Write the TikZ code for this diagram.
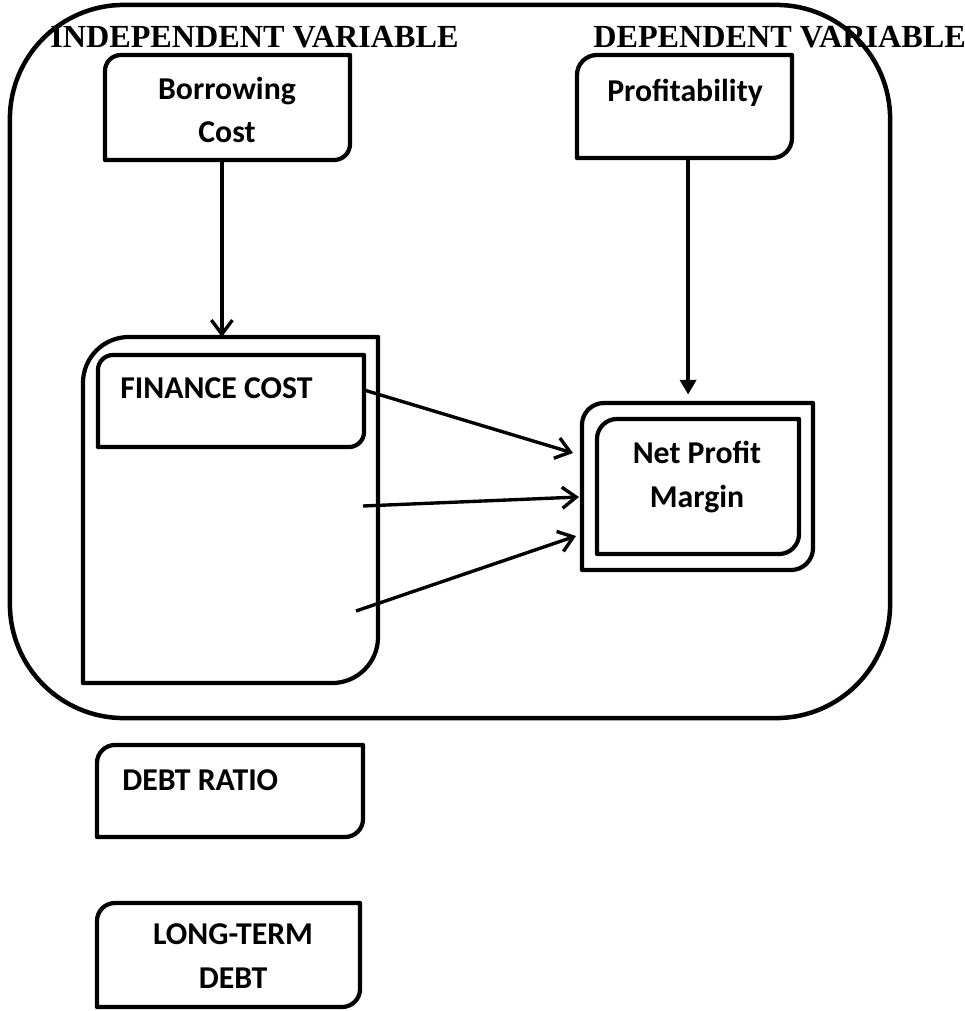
\documentclass[tikz,border=0pt]{standalone}
\usepackage{fontspec}
\setmainfont{Liberation Serif}
\newfontfamily\boxfont{Carlito}
\usetikzlibrary{arrows.meta, positioning}

% box with the top left and bottom right corners rounded
\newcommand{\cornerbox}[2]{%
  \draw[boxline] ([yshift=-#2]#1.north west)
    arc[start angle=180, end angle=90, radius=#2] -- (#1.north east)
    -- ([yshift=#2]#1.south east)
    arc[start angle=0, end angle=-90, radius=#2] -- (#1.south west) -- cycle;
}

\begin{document}
\begin{tikzpicture}[
  x=0.025cm, y=-0.025cm,
  area/.style = {inner sep=0pt, outer sep=0pt},
  boxline/.style = {line width=3pt, line join=round},
  frame/.style = {area, draw, line width=3.2pt, rounded corners=2.85cm},
  txt/.style = {font=\boxfont\fontsize{22.6}{31}\selectfont\bfseries,
    inner sep=0pt, align=center},
  head/.style = {font=\fontsize{22.9}{27}\selectfont\bfseries, inner sep=0pt},
  arr/.style = {-{Straight Barb[length=10pt,width=15pt]}, line width=2.4pt},
  fill arr/.style = {-{Triangle[length=10.5pt,width=11.5pt]}, line width=2.4pt},
]
\useasboundingbox (0,0) rectangle (965,1011);

% outer frame
\node[frame, minimum width=22cm, minimum height=17.825cm] (frame) at (450,361.5) {};

% headings
\node[head, anchor=base west] (indep) at (50,48) {INDEPENDENT VARIABLE};
\node[head, anchor=base west] (dep)   at (593,48) {DEPENDENT VARIABLE};

% top boxes
\node[area, minimum width=6.125cm, minimum height=2.625cm] (bc) at (227.5,107.5) {};
\cornerbox{bc}{0.4cm}
\node[txt, anchor=base] (bc-txt) at (227,143) {Borrowing\\Cost};

\node[area, minimum width=5.375cm, minimum height=2.575cm] (prof) at (684.5,106.5) {};
\cornerbox{prof}{0.5cm}
\node[txt, anchor=base] (prof-txt) at (685,102) {Profitability};

% finance cost group
\node[area, minimum width=7.375cm, minimum height=8.65cm] (fin) at (230.5,510) {};
\cornerbox{fin}{1.15cm}
\node[area, minimum width=6.65cm, minimum height=2.3cm] (fcin) at (231,401) {};
\cornerbox{fcin}{0.375cm}
\node[txt, anchor=base west] (fc-txt) at (120,398) {FINANCE COST};

% net profit margin
\node[area, minimum width=5.775cm, minimum height=4.175cm] (npm) at (697.5,486.5) {};
\cornerbox{npm}{0.55cm}
\node[area, minimum width=5.05cm, minimum height=3.375cm] (npmin) at (698,486.5) {};
\cornerbox{npmin}{0.5cm}
\node[txt, anchor=base] (npm-txt) at (697,507) {Net Profit\\Margin};

% boxes below the frame
\node[area, minimum width=6.65cm, minimum height=2.3cm] (debt) at (230,791) {};
\cornerbox{debt}{0.45cm}
\node[txt, anchor=base west] (debt-txt) at (122,790) {DEBT RATIO};

\node[area, minimum width=6.575cm, minimum height=2.6cm] (ltd) at (228.5,955) {};
\cornerbox{ltd}{0.45cm}
\node[txt, anchor=base] (ltd-txt) at (233,988) {LONG-TERM\\DEBT};

% arrow ends
\coordinate (mid-src) at (363,506);
\coordinate (low-src) at (356,611);
\coordinate (top-in) at (573,453);
\coordinate (mid-in) at (579,497);
\coordinate (low-in) at (576,536);

% arrows
\draw[arr] ([xshift=-0.14cm]bc.south) -- ([xshift=-0.14cm]bc.south |- fin.north);
\draw[fill arr, shorten >=6pt] ([xshift=0.09cm]prof.south) -- ([xshift=0.09cm]prof.south |- npm.north);
\draw[arr] ([yshift=0.275cm]fcin.east) -- (top-in);
\draw[arr] (mid-src) -- (mid-in);
\draw[arr] (low-src) -- (low-in);

\end{tikzpicture}
\end{document}
